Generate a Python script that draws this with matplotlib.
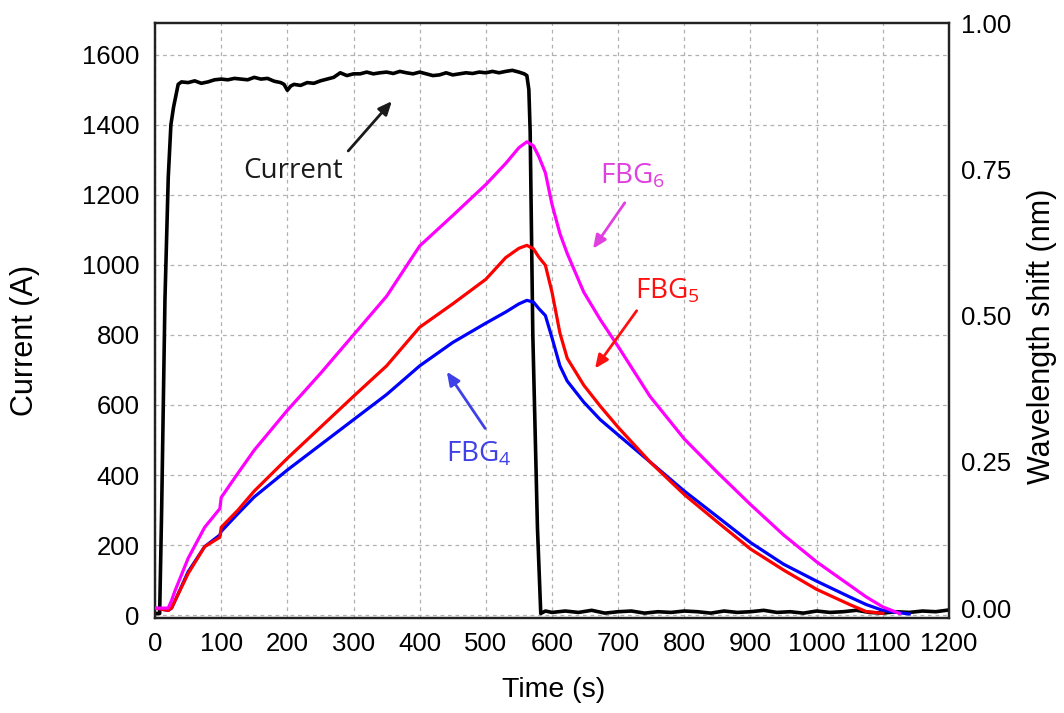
import numpy as np
import matplotlib
matplotlib.use("Agg")
import matplotlib.pyplot as plt

plt.rcParams["font.family"] = ["Liberation Sans", "DejaVu Sans"]
plt.rcParams["mathtext.fontset"] = "custom"
plt.rcParams["mathtext.rm"] = "Open Sans"

# --- data ---
# current (A) vs time (s), left axis
t_cur = [0, 7, 10, 15, 20, 24, 28, 35, 40, 50, 60, 70, 80, 90, 100, 110, 120, 130,
         140, 150, 160, 170, 180, 190, 195, 200, 205, 210, 220, 230, 240, 250, 260,
         270, 280, 290, 300, 310, 320, 330, 340, 350, 360, 370, 380, 390, 400, 410,
         420, 430, 440, 450, 460, 470, 480, 490, 500, 510, 520, 530, 540, 550, 558,
         562, 565, 567, 571, 578, 583, 590, 600, 620, 640, 660, 680, 700, 720, 740,
         760, 780, 800, 820, 840, 860, 880, 900, 920, 940, 960, 980, 1000, 1020,
         1040, 1060, 1080, 1100, 1120, 1140, 1160, 1180, 1200]
i_cur = [5, 5, 300, 900, 1250, 1400, 1450, 1515, 1522, 1520, 1525, 1518, 1522, 1528,
         1530, 1528, 1532, 1530, 1528, 1535, 1530, 1532, 1524, 1520, 1515, 1498, 1510,
         1515, 1512, 1520, 1518, 1525, 1530, 1535, 1548, 1540, 1545, 1545, 1550, 1545,
         1548, 1550, 1546, 1552, 1548, 1545, 1550, 1545, 1540, 1542, 1548, 1542, 1545,
         1548, 1546, 1550, 1548, 1552, 1548, 1552, 1555, 1550, 1545, 1540, 1500, 1380,
         800, 250, 5, 12, 8, 12, 8, 14, 6, 10, 12, 6, 10, 8, 12, 10, 6, 12, 8, 10, 14,
         8, 10, 6, 12, 8, 10, 14, 8, 6, 10, 8, 12, 10, 15]

# wavelength shift (nm) vs time (s), right axis; nan = trace already ended
t_fbg = [0, 20, 25, 30, 50, 75, 98, 100, 125, 150, 200, 250, 300, 350, 400, 450,
         500, 530, 550, 562, 572, 580, 590, 600, 612, 623, 648, 673, 700, 748, 800,
         849, 900, 950, 1000, 1050, 1075, 1100, 1125, 1140]
fbg6 = [0.0, 0.0, 0.013, 0.029, 0.085, 0.138, 0.170, 0.189, 0.230, 0.270, 0.338,
        0.401, 0.467, 0.533, 0.619, 0.671, 0.724, 0.760, 0.787, 0.797, 0.790, 0.772,
        0.744, 0.690, 0.640, 0.606, 0.540, 0.493, 0.447, 0.362, 0.289, 0.233, 0.177,
        0.125, 0.079, 0.039, 0.019, 0.002, -0.009, np.nan]
fbg5 = [0.0, -0.004, 0.0, 0.012, 0.059, 0.105, 0.121, 0.138, 0.167, 0.200, 0.256,
        0.309, 0.362, 0.414, 0.480, 0.520, 0.562, 0.599, 0.615, 0.620, 0.614, 0.600,
        0.586, 0.540, 0.470, 0.427, 0.381, 0.345, 0.309, 0.250, 0.194, 0.148, 0.101,
        0.065, 0.032, 0.006, -0.006, -0.009, np.nan, np.nan]
fbg4 = [0.0, -0.004, 0.0, 0.012, 0.062, 0.105, 0.125, 0.131, 0.161, 0.190, 0.236,
        0.279, 0.322, 0.365, 0.414, 0.454, 0.487, 0.506, 0.520, 0.526, 0.523, 0.512,
        0.500, 0.462, 0.414, 0.388, 0.352, 0.322, 0.296, 0.250, 0.200, 0.157, 0.112,
        0.075, 0.046, 0.019, 0.006, -0.004, -0.008, -0.010]

C_CUR = "black"
C_F6 = "#ff00ff"
C_F5 = "#ff0000"
C_F4 = "#0000ff"

fig = plt.figure(figsize=(10.64, 7.13), dpi=100)
fig.patch.set_facecolor("white")
ax = fig.add_axes([0.1457, 0.1332, 0.7462, 0.8345])
ax2 = ax.twinx()

ax.set_xlim(0, 1200)
ax.set_ylim(-8, 1690)
ax2.set_ylim(-0.017, 1.0)

ax.set_xticks(np.arange(0, 1201, 100))
ax.set_yticks(np.arange(0, 1601, 200))
ax2.set_yticks([0, 0.25, 0.5, 0.75, 1.0])
ax2.set_yticklabels(["0.00", "0.25", "0.50", "0.75", "1.00"])

ax.grid(True, color="#b0b0b0", linestyle=(0, (3, 3)), linewidth=0.9)
ax.set_axisbelow(True)

ax.tick_params(axis="both", length=0, labelsize=18.5)
ax.tick_params(axis="y", pad=11)
ax.tick_params(axis="x", pad=10)
ax2.tick_params(axis="y", length=0, labelsize=18.5, pad=9)

for a in (ax, ax2):
    for sp in a.spines.values():
        sp.set_linewidth(1.6)
        sp.set_edgecolor("#222222")

ax.plot(t_cur, i_cur, color=C_CUR, lw=2.6, zorder=3)
ax2.plot(t_fbg, fbg4, color=C_F4, lw=2.3, zorder=3)
ax2.plot(t_fbg, fbg5, color=C_F5, lw=2.3, zorder=4)
ax2.plot(t_fbg, fbg6, color=C_F6, lw=2.3, zorder=5)

# annotations (positions in left-axis units)
def note(label, xy_text, tail, head, color):
    ax2.text(*xy_text, label, transform=ax.transData, color=color, fontsize=20,
             family="Open Sans", ha="center", va="center", zorder=6)
    ax2.annotate("", xy=head, xycoords=ax.transData, xytext=tail,
                 textcoords=ax.transData,
                 arrowprops=dict(arrowstyle="-|>,head_length=0.8,head_width=0.35",
                                 color=color, lw=2.0, shrinkA=0, shrinkB=0),
                 zorder=6)

note("Current", (208, 1268), (292, 1325), (358, 1467), "#1a1a1a")
note(r"FBG$_{6}$", (722, 1255), (710, 1177), (662, 1046), "#e040e0")
note(r"FBG$_{5}$", (775, 925), (728, 869), (665, 704), "#ff1010")
note(r"FBG$_{4}$", (490, 460), (499, 533), (441, 695), "#4040e8")

fig.text(25 / 1064, 1 - 340 / 713, "Current (A)", rotation=90, ha="center",
         va="center", fontsize=22)
fig.text(1042 / 1064, 1 - 336 / 713, "Wavelength shift (nm)", rotation=90,
         ha="center", va="center", fontsize=22)
fig.text(554 / 1064, 1 - 690 / 713, "Time (s)", ha="center", va="center",
         fontsize=20.5)

fig.savefig("out.png", dpi=100, facecolor="white")
